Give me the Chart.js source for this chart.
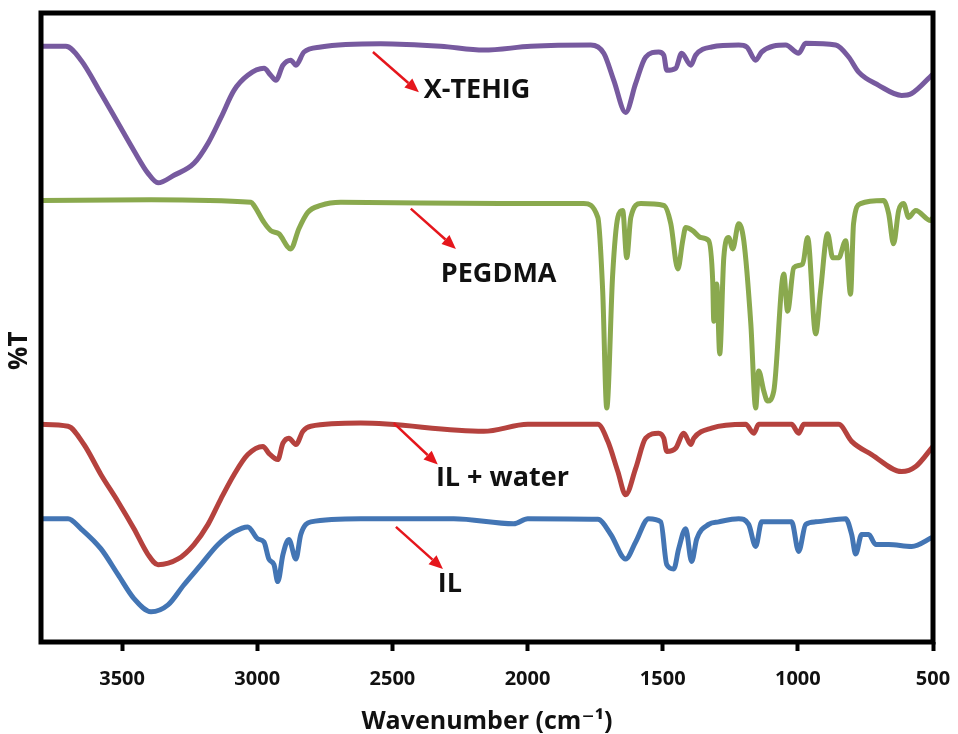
<!DOCTYPE html>
<html>
<head>
<meta charset="utf-8">
<script src="https://cdn.jsdelivr.net/npm/chart.js@4.4.0/dist/chart.umd.min.js"></script>
<style>
  html, body { margin: 0; padding: 0; background: #fff; }
  #wrap { position: relative; width: 958px; height: 734px; }
</style>
</head>
<body>
<div id="wrap"><canvas id="chart"></canvas></div>
<script>
// FTIR spectra, wavenumber (cm-1) and %T (stacked, arbitrary offset)
var tehigWn = [3800, 3708, 3652, 3578, 3515, 3456, 3404, 3367, 3308, 3234, 3182, 3134, 3086, 3035, 2975, 2950, 2931, 2905, 2876, 2857, 2827, 2765, 2543, 2321, 2162, 1988, 1766, 1718, 1681, 1637, 1600, 1563, 1515, 1496, 1485, 1452, 1430, 1396, 1378, 1319, 1219, 1189, 1156, 1134, 1045, 997, 971, 860, 812, 775, 701, 616, 579, 500];
var tehigT  = [94.7, 94.7, 92.5, 87.2, 82.5, 78.1, 74.5, 73.0, 74.2, 76.1, 79.3, 83.4, 87.7, 90.1, 91.2, 90.1, 89.3, 91.7, 92.5, 91.7, 93.8, 94.6, 95.1, 94.7, 94.1, 94.7, 94.9, 93.6, 89.3, 84.2, 88.8, 93.0, 93.8, 93.3, 90.9, 91.2, 93.6, 91.7, 93.3, 94.6, 94.9, 94.6, 92.5, 93.8, 94.9, 93.6, 95.2, 94.9, 93.0, 90.6, 88.5, 86.9, 87.2, 90.3];

var pegWn = [3800, 3393, 3023, 3012, 2975, 2950, 2920, 2876, 2846, 2813, 2765, 2691, 2099, 1792, 1740, 1722, 1707, 1685, 1666, 1648, 1633, 1618, 1581, 1496, 1470, 1444, 1426, 1415, 1389, 1359, 1330, 1315, 1311, 1300, 1289, 1274, 1256, 1241, 1219, 1200, 1174, 1156, 1145, 1126, 1112, 1089, 1052, 1038, 1015, 982, 964, 934, 916, 890, 871, 849, 823, 805, 794, 768, 683, 664, 646, 627, 609, 590, 564, 509, 500];
var pegT  = [70.2, 70.3, 69.9, 69.4, 66.7, 65.4, 64.9, 62.5, 65.7, 68.3, 69.4, 69.9, 69.7, 69.7, 67.5, 55.8, 37.2, 58.5, 67.5, 68.6, 61.1, 67.5, 69.7, 69.4, 66.5, 59.3, 63.8, 65.9, 65.4, 64.3, 63.8, 57.4, 51.0, 56.9, 45.8, 61.1, 64.3, 62.5, 66.5, 63.8, 50.6, 37.2, 43.1, 39.9, 38.3, 39.9, 58.5, 52.6, 59.5, 60.1, 64.3, 49.0, 55.8, 64.9, 61.1, 61.1, 63.8, 55.3, 66.5, 69.7, 70.2, 68.1, 63.3, 68.6, 69.7, 67.5, 68.6, 67.0, 67.5];

var ilWaterWn = [3800, 3700, 3641, 3578, 3515, 3456, 3404, 3367, 3293, 3234, 3182, 3134, 3086, 3035, 2979, 2957, 2924, 2905, 2883, 2857, 2831, 2802, 2617, 2162, 1999, 1740, 1703, 1666, 1637, 1600, 1563, 1515, 1496, 1485, 1452, 1422, 1396, 1385, 1319, 1193, 1163, 1145, 1023, 997, 978, 849, 801, 727, 616, 564, 500];
var ilWaterT  = [34.6, 34.3, 31.4, 26.6, 22.3, 18.0, 13.9, 12.3, 13.2, 15.5, 18.7, 22.8, 26.6, 29.8, 31.1, 30.0, 29.0, 31.6, 32.4, 31.4, 33.5, 34.3, 34.8, 33.5, 34.6, 34.6, 31.9, 27.1, 23.4, 27.6, 32.4, 33.2, 32.4, 30.3, 30.8, 33.2, 31.4, 32.4, 34.0, 34.6, 33.2, 34.6, 34.6, 33.2, 34.6, 34.6, 31.9, 29.8, 27.1, 27.9, 31.1];

var ilWn = [3800, 3700, 3652, 3578, 3515, 3456, 3393, 3330, 3271, 3208, 3145, 3086, 3035, 2998, 2975, 2957, 2938, 2924, 2905, 2883, 2857, 2839, 2802, 2617, 2273, 2051, 1999, 1740, 1692, 1637, 1600, 1552, 1507, 1485, 1459, 1441, 1415, 1393, 1374, 1330, 1293, 1219, 1182, 1156, 1134, 1023, 997, 971, 934, 823, 801, 786, 764, 738, 712, 664, 579, 500];
var ilT  = [19.6, 19.6, 18.0, 14.8, 10.7, 6.9, 4.8, 5.9, 9.1, 12.3, 15.5, 17.5, 18.3, 16.4, 15.9, 13.2, 12.3, 9.6, 13.9, 16.3, 13.2, 17.1, 19.1, 19.6, 19.6, 18.8, 19.6, 19.5, 17.1, 13.2, 15.9, 19.6, 19.1, 12.3, 11.6, 14.8, 18.0, 12.8, 16.4, 18.7, 19.1, 19.6, 18.7, 15.2, 19.1, 19.1, 14.4, 18.7, 19.1, 19.6, 17.1, 14.0, 17.1, 17.1, 15.5, 15.5, 15.2, 16.7];

var seriesNames = ['X-TEHIG', 'PEGDMA', 'IL + water', 'IL'];
var xTicks = [3500, 3000, 2500, 2000, 1500, 1000, 500];

function toPoints(wn, t) {
  return wn.map(function (w, i) { return { x: w, y: t[i] }; });
}

// ラベルと矢印（データ座標で指定）
var notes = [
  { text: 'X-TEHIG',    from: [2572, 93.8], to: [2402, 87.4], at: [2384, 87.7] },
  { text: 'PEGDMA',     from: [2432, 68.9], to: [2265, 62.5], at: [2321, 58.5] },
  { text: 'IL + water', from: [2495, 34.8], to: [2332, 28.2], at: [2339, 26.0] },
  { text: 'IL',         from: [2487, 18.3], to: [2313, 11.6], at: [2332, 9.1] }
];

var FONT = "'Open Sans', 'DejaVu Sans', sans-serif";

var framePlugin = {
  id: 'frame',
  afterDatasetsDraw: function (chart) {
    var a = chart.chartArea, c = chart.ctx;
    var xs = chart.scales.x, ys = chart.scales.y;
    c.save();
    // arrows + labels
    notes.forEach(function (n) {
      var x1 = xs.getPixelForValue(n.from[0]), y1 = ys.getPixelForValue(n.from[1]);
      var x2 = xs.getPixelForValue(n.to[0]),   y2 = ys.getPixelForValue(n.to[1]);
      var ang = Math.atan2(y2 - y1, x2 - x1);
      var hl = 14, hw = 6;
      c.strokeStyle = '#E5161C';
      c.fillStyle = '#E5161C';
      c.lineWidth = 2.5;
      c.beginPath();
      c.moveTo(x1, y1);
      c.lineTo(x2 - hl * Math.cos(ang), y2 - hl * Math.sin(ang));
      c.stroke();
      c.beginPath();
      c.moveTo(x2, y2);
      c.lineTo(x2 - hl * Math.cos(ang) + hw * Math.sin(ang), y2 - hl * Math.sin(ang) - hw * Math.cos(ang));
      c.lineTo(x2 - hl * Math.cos(ang) - hw * Math.sin(ang), y2 - hl * Math.sin(ang) + hw * Math.cos(ang));
      c.closePath();
      c.fill();
      c.fillStyle = '#111';
      c.font = 'bold 27px ' + FONT;
      c.textAlign = 'left';
      c.textBaseline = 'middle';
      c.fillText(n.text, xs.getPixelForValue(n.at[0]), ys.getPixelForValue(n.at[1]));
    });
    // 縦軸タイトル（少し下寄り）
    c.save();
    c.translate(a.left - 21, a.top + (a.bottom - a.top) * 0.537);
    c.rotate(-Math.PI / 2);
    c.fillStyle = '#111';
    c.font = 'bold 26px ' + FONT;
    c.textAlign = 'center';
    c.textBaseline = 'middle';
    c.fillText('%T', 0, 0);
    c.restore();
    // 枠線
    c.strokeStyle = '#000';
    c.lineWidth = 5;
    c.strokeRect(a.left, a.top, a.right - a.left, a.bottom - a.top);
    c.restore();
  }
};

var ctx = document.getElementById('chart');
var colors = ['#775A9F', '#8AA94E', '#B5423E', '#4375B4'];
var chart = new Chart(ctx, {
  type: 'line',
  data: {
    datasets: [
      { label: seriesNames[0], data: toPoints(tehigWn, tehigT) },
      { label: seriesNames[1], data: toPoints(pegWn, pegT) },
      { label: seriesNames[2], data: toPoints(ilWaterWn, ilWaterT) },
      { label: seriesNames[3], data: toPoints(ilWn, ilT) }
    ].map(function (d, i) {
      d.borderColor = colors[i];
      d.borderWidth = 5;
      d.pointRadius = 0;
      d.fill = false;
      d.cubicInterpolationMode = 'monotone';
      return d;
    })
  },
  options: {
    responsive: true,
    maintainAspectRatio: false,
    animation: false,
    layout: {
      padding: { left: 41, top: 13, right: 25, bottom: 0 }
    },
    plugins: {
      legend: { display: false },
      tooltip: { enabled: false }
    },
    scales: {
      x: {
        type: 'linear',
        reverse: true,
        min: 500,
        max: 3800,
        afterBuildTicks: function (axis) {
          axis.ticks = xTicks.map(function (v) { return { value: v }; });
        },
        afterFit: function (axis) {
          axis.paddingLeft = 0;
          axis.paddingRight = 0;
        },
        ticks: {
          color: '#111',
          padding: 16,
          maxRotation: 0,
          font: { family: FONT, size: 20, weight: 'bold' },
          callback: function (v) { return String(v); }
        },
        grid: {
          display: true,
          drawOnChartArea: false,
          drawTicks: true,
          tickLength: 9,
          tickWidth: 4,
          tickColor: '#000'
        },
        border: { display: false },
        title: {
          display: true,
          text: 'Wavenumber (cm\u207B\u00B9)',
          color: '#111',
          padding: { top: 2, bottom: 0 },
          font: { family: FONT, size: 25, weight: 'bold', lineHeight: 1.0 }
        }
      },
      y: {
        display: false,
        min: 0,
        max: 100
      }
    }
  },
  plugins: [framePlugin]
});
</script>
</body>
</html>
